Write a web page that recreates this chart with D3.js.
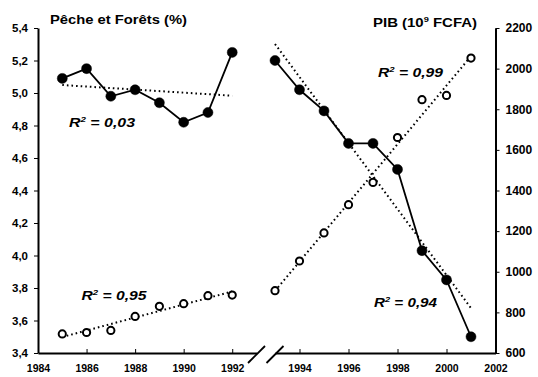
<!DOCTYPE html>
<html>
<head>
<meta charset="utf-8">
<script src="https://cdn.jsdelivr.net/npm/d3@7"></script>
<style>
  body { margin: 0; background: #fff; }
  svg { display: block; font-family: "Liberation Sans", Arial, sans-serif; }
  .axis text { font-weight: bold; fill: #000; }
  .axis path, .axis line { stroke: #000; }
</style>
</head>
<body>
<div id="chart"></div>
<script>
// periods either side of the axis break
var years1 = [1985, 1986, 1987, 1988, 1989, 1990, 1991, 1992],
	years2 = [1993, 1994, 1995, 1996, 1997, 1998, 1999, 2000, 2001];

// Peche et Forets (% , left axis) - filled dots
var peche1 = [5.09, 5.15, 4.98, 5.02, 4.94, 4.82, 4.88, 5.25],
	peche2 = [5.20, 5.02, 4.89, 4.69, 4.69, 4.53, 4.03, 3.85, 3.50];

// PIB (10^9 FCFA, right axis) - open dots
var pib1 = [694, 701, 711, 780, 830, 843, 882, 885],
	pib2 = [907, 1053, 1191, 1330, 1440, 1661, 1847, 1868, 2052];

var leftTicks = [3.4, 3.6, 3.8, 4.0, 4.2, 4.4, 4.6, 4.8, 5.0, 5.2, 5.4],
	rightTicks = [600, 800, 1000, 1200, 1400, 1600, 1800, 2000, 2200],
	xTicks1 = [1984, 1986, 1988, 1990, 1992],
	xTicks2 = [1994, 1996, 1998, 2000, 2002];

var r2Labels = ['0,03', '0,94', '0,95', '0,99'];

var width = 538,
	height = 377;

var svg = d3.select('#chart').append('svg')
	.attr('width', width)
	.attr('height', height);

var top_ = 28, bottom = 353, leftX = 38, rightX = 495.5;

var yL = d3.scaleLinear().domain([3.4, 5.4]).range([bottom, top_]),
	yR = d3.scaleLinear().domain([600, 2200]).range([bottom, top_]),
	x1 = d3.scaleLinear().domain([1984, 1993]).range([leftX, 256.5]),
	x2 = d3.scaleLinear().domain([1993, 2002]).range([275, rightX]);

var comma = function(d) { return d3.format('.1f')(d).replace('.', ','); };

// axes
svg.append('g')
	.attr('class', 'axis')
	.attr('transform', 'translate(' + leftX + ',0)')
	.call(d3.axisLeft(yL).tickValues(leftTicks).tickFormat(comma)
		.tickSizeInner(4).tickSizeOuter(0).tickPadding(6))
	.call(function(g) {
		g.selectAll('text').style('font-size', '11.5px');
		g.select('.domain').attr('stroke-width', 2);
	});

svg.append('g')
	.attr('class', 'axis')
	.attr('transform', 'translate(' + rightX + ',0)')
	.call(d3.axisRight(yR).tickValues(rightTicks).tickFormat(d3.format('d'))
		.tickSizeInner(4).tickSizeOuter(0).tickPadding(6))
	.call(function(g) {
		g.selectAll('text').style('font-size', '12px');
		g.select('.domain').attr('stroke-width', 2);
	});

[[x1, xTicks1], [x2, xTicks2]].forEach(function(p) {
	svg.append('g')
		.attr('class', 'axis')
		.attr('transform', 'translate(0,' + bottom + ')')
		.call(d3.axisBottom(p[0]).tickValues(p[1]).tickFormat(d3.format('d'))
			.tickSizeInner(-4).tickSizeOuter(0).tickPadding(12))
		.call(function(g) {
			g.selectAll('text').style('font-size', '10.5px');
			g.select('.domain').attr('stroke-width', 2);
		});
});

// axis break marks
[x1.range()[1], x2.range()[0]].forEach(function(cx) {
	svg.append('line')
		.attr('x1', cx - 8.5).attr('y1', bottom + 10)
		.attr('x2', cx + 8.5).attr('y2', bottom - 7)
		.attr('stroke', '#000').attr('stroke-width', 1.8);
});

// least squares fit, drawn over the span of the data
function fit(xs, ys) {
	var mx = d3.mean(xs), my = d3.mean(ys);
	var sxy = d3.sum(xs, function(x, i) { return (x - mx) * (ys[i] - my); }),
		sxx = d3.sum(xs, function(x) { return (x - mx) * (x - mx); });
	var b = sxy / sxx, a = my - b * mx;
	return [xs[0], xs[xs.length - 1]].map(function(x) { return [x, a + b * x]; });
}

var series = [
	{ years: years1, vals: peche1, x: x1, y: yL, filled: true },
	{ years: years2, vals: peche2, x: x2, y: yL, filled: true },
	{ years: years1, vals: pib1, x: x1, y: yR, filled: false },
	{ years: years2, vals: pib2, x: x2, y: yR, filled: false }
];

series.forEach(function(s) {
	var line = d3.line()
		.x(function(d) { return s.x(d[0]); })
		.y(function(d) { return s.y(d[1]); });

	svg.append('path')
		.datum(fit(s.years, s.vals))
		.attr('d', line)
		.attr('fill', 'none')
		.attr('stroke', '#000')
		.attr('stroke-width', 2)
		.attr('stroke-dasharray', '1.6,3');

	var pts = s.years.map(function(y, i) { return [y, s.vals[i]]; });

	if (s.filled) {
		svg.append('path')
			.datum(pts)
			.attr('d', line)
			.attr('fill', 'none')
			.attr('stroke', '#000')
			.attr('stroke-width', 1.8);
	}

	svg.append('g')
		.selectAll('circle')
		.data(pts)
		.enter()
		.append('circle')
		.attr('cx', function(d) { return s.x(d[0]); })
		.attr('cy', function(d) { return s.y(d[1]); })
		.attr('r', s.filled ? 5 : 3.6)
		.attr('fill', s.filled ? '#000' : '#fff')
		.attr('stroke', '#000')
		.attr('stroke-width', s.filled ? 0.5 : 2);
});

// titles
svg.append('text')
	.attr('x', 50).attr('y', 24)
	.attr('textLength', 137).attr('lengthAdjust', 'spacingAndGlyphs')
	.style('font-size', '13px').style('font-weight', 'bold')
	.text('Pêche et Forêts (%)');

var pibT = svg.append('text')
	.attr('x', 373).attr('y', 26.5)
	.attr('textLength', 104).attr('lengthAdjust', 'spacingAndGlyphs')
	.style('font-size', '13px').style('font-weight', 'bold');
pibT.append('tspan').text('PIB (10');
pibT.append('tspan').attr('dy', -5).style('font-size', '8px').text('9');
pibT.append('tspan').attr('dy', 5).text(' FCFA)');

// R² annotations
var r2Pos = [
	{ x: 69, y: 126.5, w: 66 },
	{ x: 374, y: 306.5, w: 63 },
	{ x: 81.5, y: 300, w: 65 },
	{ x: 378, y: 77, w: 65 }
];

r2Pos.forEach(function(p, i) {
	var t = svg.append('text')
		.attr('x', p.x).attr('y', p.y)
		.attr('textLength', p.w).attr('lengthAdjust', 'spacingAndGlyphs')
		.style('font-size', '13px').style('font-weight', 'bold').style('font-style', 'italic');
	t.append('tspan').text('R');
	t.append('tspan').attr('dy', -5).style('font-size', '8px').text('2');
	t.append('tspan').attr('dy', 5).text(' = ' + r2Labels[i]);
});
</script>
</body>
</html>
